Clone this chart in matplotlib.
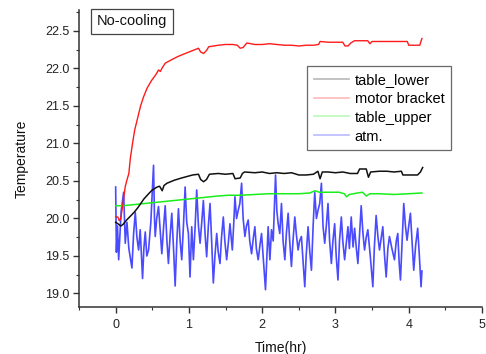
import matplotlib
matplotlib.use("Agg")
import matplotlib.pyplot as plt
from matplotlib.lines import Line2D
from matplotlib.ticker import MultipleLocator

plt.rcParams['font.family'] = ['Liberation Sans', 'DejaVu Sans']

# ---- data ----
t_lower = [0, 0.03, 0.07, 0.1, 0.15, 0.2, 0.25, 0.3, 0.385, 0.45,
           0.5, 0.567, 0.6, 0.635, 0.66, 0.7, 0.8, 0.9, 0.975, 1.05,
           1.13, 1.16, 1.2, 1.24, 1.28, 1.4, 1.5, 1.6, 1.63, 1.7,
           1.73, 1.76, 1.9, 2.0, 2.1, 2.2, 2.3, 2.4, 2.5, 2.6,
           2.7, 2.76, 2.79, 2.82, 2.9, 3.0, 3.1, 3.2, 3.3, 3.33,
           3.42, 3.45, 3.48, 3.6, 3.7, 3.8, 3.9, 3.92, 4.0, 4.1,
           4.12, 4.16, 4.19]
v_lower = [19.95, 19.93, 19.90, 19.92, 19.98, 20.03, 20.08, 20.14, 20.26, 20.33,
           20.38, 20.42, 20.43, 20.37, 20.44, 20.47, 20.51, 20.54, 20.56, 20.58,
           20.59, 20.52, 20.49, 20.52, 20.59, 20.60, 20.59, 20.60, 20.53, 20.54,
           20.60, 20.62, 20.61, 20.62, 20.60, 20.61, 20.60, 20.61, 20.58, 20.58,
           20.59, 20.63, 20.53, 20.62, 20.62, 20.61, 20.62, 20.60, 20.60, 20.66,
           20.66, 20.55, 20.62, 20.63, 20.63, 20.62, 20.63, 20.58, 20.58, 20.58,
           20.58, 20.62, 20.68]

t_motor = [0.0, 0.03, 0.05, 0.07, 0.10, 0.13, 0.15, 0.18, 0.20, 0.23,
           0.26, 0.29, 0.34, 0.38, 0.43, 0.49, 0.55, 0.585, 0.61, 0.63,
           0.676, 0.75, 0.85, 0.95, 1.0, 1.08, 1.13, 1.16, 1.2, 1.24,
           1.27, 1.40, 1.5, 1.6, 1.66, 1.70, 1.74, 1.79, 1.9, 2.0,
           2.1, 2.2, 2.3, 2.4, 2.5, 2.6, 2.7, 2.77, 2.79, 2.9,
           3.0, 3.1, 3.13, 3.17, 3.21, 3.26, 3.35, 3.44, 3.47, 3.5,
           3.6, 3.7, 3.8, 3.9, 3.98, 4.0, 4.1, 4.15, 4.18]
v_motor = [20.02, 20.02, 19.97, 20.00, 20.2, 20.42, 20.5, 20.6, 20.8, 21.0,
           21.18, 21.3, 21.5, 21.62, 21.74, 21.84, 21.92, 21.98, 21.96, 22.0,
           22.07, 22.11, 22.16, 22.2, 22.22, 22.25, 22.27, 22.22, 22.20, 22.24,
           22.29, 22.31, 22.32, 22.32, 22.31, 22.27, 22.28, 22.34, 22.32, 22.32,
           22.33, 22.32, 22.31, 22.31, 22.30, 22.31, 22.31, 22.32, 22.36, 22.35,
           22.35, 22.35, 22.30, 22.30, 22.34, 22.37, 22.37, 22.37, 22.33, 22.36,
           22.36, 22.36, 22.36, 22.36, 22.36, 22.31, 22.31, 22.31, 22.40]

t_upper = [0, 0.1, 0.2, 0.3, 0.4, 0.5, 0.6, 0.7, 0.8, 0.9,
           1.0, 1.2, 1.4, 1.54, 1.7, 1.9, 2.08, 2.3, 2.5, 2.65,
           2.72, 2.78, 2.9, 3.05, 3.12, 3.15, 3.19, 3.3, 3.37, 3.42,
           3.47, 3.6, 3.8, 4.0, 4.18]
v_upper = [20.17, 20.17, 20.18, 20.19, 20.20, 20.21, 20.22, 20.23, 20.24, 20.25,
           20.26, 20.28, 20.30, 20.31, 20.31, 20.32, 20.33, 20.33, 20.33, 20.34,
           20.37, 20.35, 20.35, 20.35, 20.33, 20.29, 20.32, 20.34, 20.35, 20.30,
           20.33, 20.33, 20.32, 20.33, 20.34]

t_atm = [0.0, 0.01, 0.025, 0.041, 0.075, 0.109, 0.131, 0.154, 0.18, 0.222,
         0.245, 0.268, 0.29, 0.313, 0.335, 0.367, 0.385, 0.404, 0.425, 0.449,
         0.48, 0.517, 0.530, 0.540, 0.56, 0.585, 0.61, 0.63, 0.655, 0.676,
         0.70, 0.72, 0.745, 0.766, 0.79, 0.812, 0.835, 0.857, 0.88, 0.902,
         0.925, 0.948, 0.97, 0.993,
         1.015, 1.038, 1.061, 1.085, 1.106, 1.13, 1.152, 1.175, 1.197, 1.22,
         1.242, 1.265, 1.288, 1.31, 1.333, 1.355, 1.379, 1.40, 1.424, 1.445,
         1.469, 1.49, 1.515, 1.54, 1.56, 1.592, 1.61, 1.628, 1.65, 1.673,
         1.695, 1.719, 1.74, 1.764, 1.785, 1.809, 1.83, 1.855, 1.88, 1.9,
         1.92, 1.945, 1.97, 1.991, 2.02, 2.045, 2.065, 2.081,
         2.105, 2.127, 2.15, 2.182, 2.20, 2.218, 2.24, 2.263, 2.285, 2.309,
         2.33, 2.354, 2.375, 2.399, 2.42, 2.445, 2.465, 2.49, 2.51, 2.535,
         2.56, 2.581, 2.60, 2.626, 2.65, 2.672, 2.695, 2.717, 2.74, 2.762,
         2.785, 2.808, 2.83, 2.853, 2.875, 2.898, 2.92, 2.944, 2.965, 2.989,
         3.01, 3.034, 3.055, 3.08, 3.10, 3.125, 3.15, 3.17,
         3.19, 3.215, 3.24, 3.261, 3.285, 3.306, 3.33, 3.351, 3.375, 3.397,
         3.42, 3.442, 3.475, 3.51, 3.53, 3.555, 3.58, 3.601, 3.625, 3.646,
         3.67, 3.692, 3.715, 3.737, 3.77, 3.805, 3.83, 3.85, 3.87, 3.887,
         3.91, 3.932, 3.955, 3.977, 4.0, 4.023, 4.045, 4.068, 4.095, 4.122,
         4.145, 4.168, 4.18]
v_atm = [20.42, 19.55, 19.90, 19.45, 20.10, 20.35, 19.67, 19.95, 19.60, 19.34,
         19.80, 20.08, 19.75, 19.58, 19.85, 19.20, 19.60, 19.82, 19.50, 19.58,
         19.95, 20.71, 20.00, 19.76, 20.00, 20.16, 19.80, 19.53, 19.90, 20.17,
         19.70, 19.40, 19.80, 20.07, 19.60, 19.10, 19.70, 20.13, 19.70, 19.45,
         19.90, 20.42, 19.95, 19.80,
         19.22, 19.89, 19.45, 19.90, 20.38, 19.90, 19.67, 19.95, 20.24, 19.80,
         19.49, 19.90, 20.20, 19.70, 19.14, 19.50, 19.80, 19.55, 19.40, 19.75,
         20.02, 19.70, 19.45, 19.70, 19.93, 19.58, 19.90, 20.29, 20.00, 20.11,
         20.20, 20.47, 20.00, 19.76, 19.90, 19.98, 19.70, 19.53, 19.75, 19.89,
         19.60, 19.45, 19.65, 19.80, 19.40, 19.05, 19.50, 19.89,
         19.45, 19.85, 19.70, 20.58, 20.10, 19.93, 19.80, 20.20, 19.70, 19.45,
         19.80, 20.07, 19.70, 19.36, 19.70, 20.02, 19.80, 19.58, 19.70, 19.76,
         19.40, 19.09, 19.50, 19.89, 19.55, 19.31, 19.90, 20.35, 20.00, 20.11,
         20.20, 20.47, 19.90, 19.67, 19.90, 20.20, 19.70, 19.40, 19.70, 19.93,
         19.50, 19.18, 19.70, 20.02, 19.70, 19.45, 19.70, 19.89,
         19.60, 20.02, 19.62, 19.87, 19.60, 19.40, 19.80, 20.17, 19.80, 19.58,
         19.75, 19.85, 19.50, 19.09, 19.60, 20.04, 19.75, 19.58, 19.75, 19.89,
         19.50, 19.22, 19.60, 19.76, 19.60, 19.45, 19.70, 19.80, 19.40, 19.18,
         19.70, 20.20, 19.90, 19.71, 19.90, 20.07, 19.70, 19.31, 19.65, 19.87,
         19.50, 19.09, 19.30]

labels = ["table_lower", "motor bracket", "table_upper", "atm."]
colors = ["#111111", "#ff1a1a", "#1aee1a", "#1a1aff"]
x_ticks = [0, 1, 2, 3, 4, 5]
y_ticks = [19.0, 19.5, 20.0, 20.5, 21.0, 21.5, 22.0, 22.5]

# ---- figure ----
fig = plt.figure(figsize=(4.86, 3.54), dpi=100)
ax = fig.add_axes([0.1626, 0.1328, 0.8292, 0.839])

ax.plot(t_atm, v_atm, color="#2a2aff", lw=1.2, alpha=0.85, zorder=2)
ax.plot(t_upper, v_upper, color=colors[2], lw=1.1, zorder=3)
ax.plot(t_motor, v_motor, color=colors[1], lw=1.0, zorder=4)
ax.plot(t_lower, v_lower, color=colors[0], lw=1.1, zorder=5)

ax.set_xlim(-0.5, 5)
ax.set_ylim(18.82, 22.78)
ax.set_xticks(x_ticks)
ax.set_yticks(y_ticks)
ax.set_yticklabels([f"{v:.1f}" for v in y_ticks])
ax.xaxis.set_minor_locator(MultipleLocator(0.5))
ax.yaxis.set_minor_locator(MultipleLocator(0.25))

for s in ["top", "right"]:
    ax.spines[s].set_visible(False)
for s in ["left", "bottom"]:
    ax.spines[s].set_color("#333333")
    ax.spines[s].set_linewidth(1.1)

ax.tick_params(which="major", direction="out", length=4, width=1, color="#333333",
               labelsize=9, labelcolor="#222222")
ax.tick_params(axis="x", which="major", pad=5)
ax.tick_params(axis="y", which="major", pad=3)
ax.tick_params(which="minor", direction="out", length=2.5, width=0.8, color="#333333")

ax.set_xlabel("Time(hr)", fontsize=10, color="#111111", labelpad=7)
ax.set_ylabel("Temperature", fontsize=10, color="#111111", labelpad=12)

ax.text(0.1315, 0.962, "No-cooling", transform=ax.transAxes, fontsize=10.5,
        ha="center", va="center", color="#111111",
        bbox=dict(boxstyle="square,pad=0.38", fc="white", ec="#444444", lw=0.9))

handles = [Line2D([], [], color=c, lw=1.2, alpha=0.3) for c in colors]
leg = ax.legend(handles, labels, loc="upper right", bbox_to_anchor=(0.923, 0.811),
                fontsize=10.5, frameon=True, fancybox=False, edgecolor="#444444",
                handlelength=2.4, handletextpad=0.4, labelspacing=0.34,
                borderpad=0.45, borderaxespad=0)
leg.get_frame().set_linewidth(0.9)

fig.savefig("out.png", dpi=100, facecolor="white")
